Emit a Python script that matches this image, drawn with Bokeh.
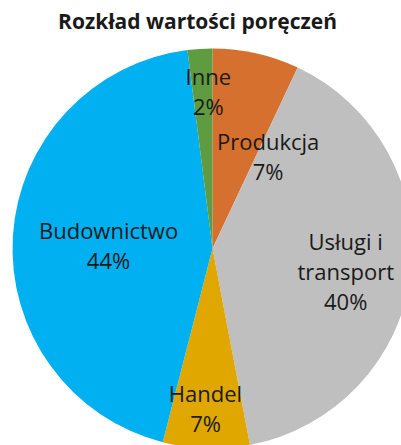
import math
from bokeh.plotting import figure
from bokeh.models import Range1d, ColumnDataSource
from bokeh.core.properties import value
from bokeh.embed import file_html
from bokeh.resources import INLINE

# ---- data ----
title_text = "Rozkład wartości poręczeń"
categories = ["Produkcja", "Usługi i transport", "Handel", "Budownictwo", "Inne"]
label_lines = [["Produkcja"], ["Usługi i", "transport"], ["Handel"], ["Budownictwo"], ["Inne"]]
shares = [7, 40, 7, 44, 2]
colors = ["#D5702E", "#BFBFBF", "#DFA700", "#00B0F0", "#5F9B41"]

# ---- style / layout ----
W, H = 401, 445
CX, CY, R = 212, 197, 200
label_angle_shift = [18.4, 2.2, 0.7, -1.9, 2.1]   # degrees, clockwise
label_radius = [0.54, 0.675, 0.80, 0.52, 0.79]
LINE_STEP = 30
FONT = "Open Sans"

p = figure(width=W, height=H, output_backend="svg", toolbar_location=None,
           x_range=Range1d(0, W), y_range=Range1d(0, H),
           x_axis_location=None, y_axis_location=None, min_border=0)
p.outline_line_color = None
p.grid.visible = False
p.background_fill_color = "white"

total = sum(shares)
starts, ends, mids = [], [], []
cum = 0.0
for s in shares:
    a0 = cum / total * 2 * math.pi
    cum += s
    a1 = cum / total * 2 * math.pi
    starts.append(math.pi / 2 - a0)
    ends.append(math.pi / 2 - a1)
    mids.append((a0 + a1) / 2)

src = ColumnDataSource(dict(x=[CX] * len(shares), y=[CY] * len(shares),
                            start=starts, end=ends, color=colors, cat=categories))
p.wedge(x="x", y="y", radius=R, start_angle="start", end_angle="end",
        direction="clock", fill_color="color", line_color=None, source=src)

tx, ty, tt = [], [], []
for i, s in enumerate(shares):
    th = mids[i] + math.radians(label_angle_shift[i])
    ax = CX + R * label_radius[i] * math.sin(th)
    ay = CY + R * label_radius[i] * math.cos(th)
    lines = label_lines[i] + [f"{s}%"]
    n = len(lines)
    for j, ln in enumerate(lines):
        tx.append(ax)
        ty.append(ay + ((n - 1) / 2 - j) * LINE_STEP)
        tt.append(ln)

p.text(x=tx, y=ty, text=tt, text_align="center", text_baseline="middle",
       text_font=value(FONT), text_font_size="22px", text_color="#1a1a1a")

p.text(x=[197], y=[425], text=[title_text], text_align="center", text_baseline="middle",
       text_font=value(FONT), text_font_style="bold", text_font_size="21px",
       text_color="#1a1a1a")

open("out.html", "w").write(file_html(p, INLINE))
